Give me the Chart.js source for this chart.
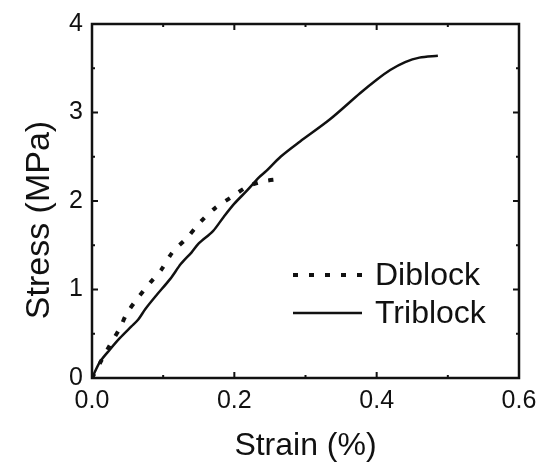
<!DOCTYPE html>
<html>
<head>
<meta charset="utf-8">
<script src="https://cdn.jsdelivr.net/npm/chart.js@4.4.1/dist/chart.umd.min.js"></script>
<style>
  html, body { margin: 0; padding: 0; background: #fff; }
  #wrap { width: 549px; height: 465px; }
</style>
</head>
<body>
<div id="wrap"><canvas id="myChart" width="549" height="465"></canvas></div>
<script>
// data
const seriesNames = ['Diblock', 'Triblock'];

const diblockStrain = [0, 0.012, 0.025, 0.039, 0.049, 0.064, 0.081, 0.098, 0.113, 0.133, 0.152, 0.173, 0.197, 0.218, 0.239, 0.264];
const diblockStress = [0, 0.18, 0.37, 0.56, 0.73, 0.90, 1.07, 1.23, 1.42, 1.58, 1.76, 1.92, 2.05, 2.16, 2.22, 2.25];

const triblockStrain = [0, 0.011, 0.025, 0.039, 0.055, 0.065, 0.075, 0.090, 0.110, 0.125, 0.140, 0.150, 0.170, 0.185, 0.200, 0.218, 0.235, 0.245, 0.265, 0.292, 0.334, 0.377, 0.400, 0.419, 0.440, 0.460, 0.486];
const triblockStress = [0, 0.18, 0.32, 0.45, 0.58, 0.66, 0.78, 0.93, 1.12, 1.29, 1.42, 1.52, 1.66, 1.82, 1.97, 2.12, 2.27, 2.34, 2.50, 2.67, 2.92, 3.22, 3.37, 3.48, 3.57, 3.62, 3.64];

const xTicks = [0, 0.2, 0.4, 0.6];
const yTicks = [0, 1, 2, 3, 4];
const xMinor = [0.1, 0.3, 0.5];
const yMinor = [0.5, 1.5, 2.5, 3.5];

const xTitle = 'Strain (%)';
const yTitle = 'Stress (MPa)';

function toPoints(xs, ys) {
  return xs.map((x, i) => ({ x: x, y: ys[i] }));
}

const FONT = "'Liberation Sans', Arial, sans-serif";

// frame with inward ticks on all four sides
const frameTicks = {
  id: 'frameTicks',
  afterDatasetsDraw(chart) {
    const ctx = chart.ctx;
    const a = chart.chartArea;
    const xs = chart.scales.x, ys = chart.scales.y;
    ctx.save();
    ctx.strokeStyle = '#111';
    ctx.lineWidth = 2.5;
    ctx.strokeRect(a.left, a.top, a.right - a.left, a.bottom - a.top);
    ctx.lineWidth = 2;
    function tick(v, len, isX) {
      ctx.beginPath();
      if (isX) {
        const p = xs.getPixelForValue(v);
        ctx.moveTo(p, a.bottom); ctx.lineTo(p, a.bottom - len);
        ctx.moveTo(p, a.top); ctx.lineTo(p, a.top + len);
      } else {
        const p = ys.getPixelForValue(v);
        ctx.moveTo(a.left, p); ctx.lineTo(a.left + len, p);
        ctx.moveTo(a.right, p); ctx.lineTo(a.right - len, p);
      }
      ctx.stroke();
    }
    xTicks.forEach(v => tick(v, 6, true));
    xMinor.forEach(v => tick(v, 3, true));
    yTicks.forEach(v => tick(v, 6, false));
    yMinor.forEach(v => tick(v, 3, false));

    // y axis title, sits a bit below the plot centre in the original
    ctx.fillStyle = '#111';
    ctx.font = '34px ' + FONT;
    ctx.textAlign = 'center';
    ctx.textBaseline = 'middle';
    ctx.translate(40, 220);
    ctx.rotate(-Math.PI / 2);
    ctx.fillText(yTitle, 0, 0);
    ctx.restore();
  }
};

// legend inside the plot, lower right
const innerLegend = {
  id: 'innerLegend',
  afterDraw(chart) {
    const ctx = chart.ctx;
    const rows = [275, 313];
    ctx.save();
    chart.data.datasets.forEach((ds, i) => {
      const y = rows[i];
      ctx.strokeStyle = ds.borderColor;
      ctx.lineWidth = ds.borderWidth;
      ctx.setLineDash(ds.borderDash || []);
      ctx.beginPath();
      ctx.moveTo(293, y);
      ctx.lineTo(362, y);
      ctx.stroke();
      ctx.setLineDash([]);
      ctx.fillStyle = '#111';
      ctx.font = '32px ' + FONT;
      ctx.textBaseline = 'middle';
      ctx.textAlign = 'left';
      ctx.fillText(ds.label, 375, y + 1);
    });
    ctx.restore();
  }
};

const ctx = document.getElementById('myChart').getContext('2d');
const myChart = new Chart(ctx, {
  type: 'scatter',
  data: {
    datasets: [{
      label: seriesNames[0],
      data: toPoints(diblockStrain, diblockStress),
      showLine: true,
      borderColor: '#111',
      borderWidth: 4,
      borderDash: [5, 11],
      pointRadius: 0,
      tension: 0.3
    }, {
      label: seriesNames[1],
      data: toPoints(triblockStrain, triblockStress),
      showLine: true,
      borderColor: '#111',
      borderWidth: 2.5,
      pointRadius: 0,
      tension: 0.3
    }]
  },
  options: {
    responsive: false,
    animation: false,
    layout: { padding: { top: 18, right: 30, left: 0, bottom: 0 } },
    plugins: {
      legend: { display: false },
      tooltip: { enabled: false }
    },
    scales: {
      x: {
        type: 'linear',
        min: 0,
        max: 0.6,
        afterBuildTicks(scale) { scale.ticks = xTicks.map(v => ({ value: v })); },
        afterFit(scale) { scale.height = 87; },
        grid: { display: false, drawTicks: false },
        border: { display: false },
        ticks: {
          padding: 8,
          color: '#111',
          font: { family: FONT, size: 25 },
          callback: v => v.toFixed(1)
        },
        title: {
          display: true,
          text: xTitle,
          color: '#111',
          font: { family: FONT, size: 32 },
          padding: { top: 0, bottom: 0 }
        }
      },
      y: {
        type: 'linear',
        min: 0,
        max: 4,
        afterBuildTicks(scale) { scale.ticks = yTicks.map(v => ({ value: v })); },
        afterFit(scale) { scale.width = 92; },
        grid: { display: false, drawTicks: false },
        border: { display: false },
        ticks: {
          padding: 9,
          color: '#111',
          font: { family: FONT, size: 25 },
          callback: v => v.toString()
        }
      }
    }
  },
  plugins: [frameTicks, innerLegend]
});
</script>
</body>
</html>
